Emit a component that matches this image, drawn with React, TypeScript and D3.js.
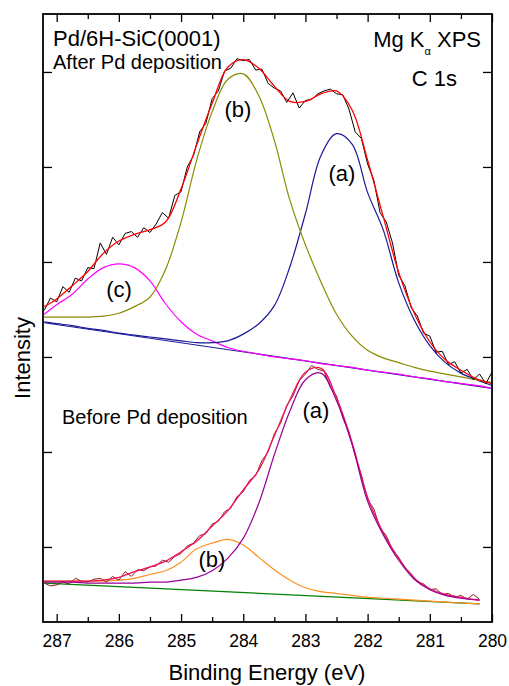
import { useEffect, useRef } from "react";
import * as d3 from "d3";

// binding energy grid of the measured spectra (eV)
const rawEnergy = [
  287.2, 287.1, 287.0, 286.9, 286.8, 286.7, 286.6, 286.5, 286.4, 286.3, 286.2, 286.1, 286.0,
  285.9, 285.8, 285.7, 285.6, 285.5, 285.4, 285.3, 285.2, 285.1, 285.0, 284.9, 284.8, 284.7,
  284.6, 284.5, 284.4, 284.3, 284.2, 284.1, 284.0, 283.9, 283.8, 283.7, 283.6, 283.5, 283.4,
  283.3, 283.2, 283.1, 283.0, 282.9, 282.8, 282.7, 282.6, 282.5, 282.4, 282.3, 282.2, 282.1,
  282.0, 281.9, 281.8, 281.7, 281.6, 281.5, 281.4, 281.3, 281.2, 281.1, 281.0, 280.9, 280.8,
  280.7, 280.6, 280.5, 280.4, 280.3, 280.2, 280.1, 280.0,
];

// after Pd deposition, measured counts (arb. units, offset)
const upperRaw = [
  349, 362, 358, 374, 368, 383, 380, 394, 393, 420, 408, 426, 418, 430, 432, 426, 436, 431, 440,
  452, 446, 470, 474, 500, 512, 537, 546, 572, 580, 601, 604, 614, 612, 613, 602, 603, 588, 583,
  580, 568, 578, 562, 570, 571, 577, 580, 582, 577, 576, 561, 537, 530, 503, 486, 452, 442, 420,
  386, 375, 352, 343, 325, 322, 305, 306, 292, 295, 283, 287, 276, 282, 272, 284,
];

// before Pd deposition, measured counts (ends at 280.2 eV)
const lowerRaw = [
  62, 59, 60, 63, 61, 67, 64, 63, 66, 67, 63, 69, 65, 74, 69, 76, 75, 79, 80, 86, 84, 90, 93, 101,
  104, 112, 114, 124, 127, 137, 141, 153, 158, 170, 175, 191, 200, 219, 230, 249, 259, 275, 282,
  291, 287, 285, 268, 259, 236, 221, 196, 176, 150, 140, 120, 112, 97, 89, 78, 72, 63, 61, 55, 56,
  50, 51, 47, 49, 45, 50, 45,
];

// energy grid of the fitted curves
const upperFitEnergy = [
  287.2, 287.0, 286.75, 286.5, 286.25, 286.0, 285.75, 285.5, 285.25, 285.0, 284.75, 284.5, 284.25,
  284.0, 283.75, 283.5, 283.25, 283.0, 282.75, 282.5, 282.25, 282.0, 281.75, 281.5, 281.25, 281.0,
  280.75, 280.5, 280.25, 280.0,
];
const upperFit = [
  353, 361, 375, 390, 409, 422, 429, 434, 442, 477, 523, 567, 605, 613, 604, 585, 569, 569, 577, 580,
  560, 507, 448, 389, 346, 316, 297, 286, 277, 272,
];
const upperPeakA = [
  337, 335, 333, 330, 328, 325, 323, 321, 319, 317, 315, 315, 317, 324, 335, 354, 395, 451, 512, 535,
  524, 473, 434, 378, 339, 312, 294, 283, 276, 270,
];
const upperPeakB = [
  342, 342, 342, 342, 343, 346, 353, 363, 392, 442, 507, 558, 592, 598, 575, 528, 465, 418, 379, 345,
  322, 307, 299, 294, 289, 285, 282, 279, 276, 273,
];
const upperPeakC = [
  345, 355, 366, 382, 394, 398, 394, 380, 356, 337, 324, 317, 310, 306, 303, 300, 298, 296, 293, 291,
  289, 286, 284, 282, 279, 277, 274, 272, 270, 267,
];
const upperBgEnergy = [287.2, 280.0];
const upperBg = [336, 267];

const lowerFitEnergy = [
  287.2, 287.0, 286.75, 286.5, 286.25, 286.0, 285.75, 285.5, 285.25, 285.0, 284.75, 284.5, 284.25,
  284.0, 283.75, 283.5, 283.25, 283.0, 282.75, 282.5, 282.25, 282.0, 281.75, 281.5, 281.25, 281.0,
  280.75, 280.5, 280.2,
];
const lowerFit = [
  64, 64, 64, 64, 65, 68, 74, 79, 85, 95, 106, 122, 138, 160, 181, 217, 255, 284, 288, 257, 210, 152,
  115, 88, 67, 56, 50, 47, 44,
];
const lowerPeakA = [
  63, 63, 63, 62, 62, 62, 62, 63, 63, 65, 68, 75, 88, 109, 146, 197, 243, 276, 283, 254, 208, 148,
  113, 86, 66, 55, 49, 46, 44,
];
const lowerPeakB = [
  64, 64, 64, 64, 64, 65, 67, 71, 75, 84, 98, 104, 108, 102, 89, 76, 65, 57, 53, 51, 49, 47, 46, 45,
  44, 43, 42, 41, 40,
];
const lowerBgEnergy = [287.2, 280.2];
const lowerBg = [62, 40];

const majorTicks = [287, 286, 285, 284, 283, 282, 281, 280];
const minorTicks = [286.5, 285.5, 284.5, 283.5, 282.5, 281.5, 280.5];
const yTicks = [100, 200, 300, 400, 500, 600];

const FONT = "'Liberation Sans', Arial, Helvetica, sans-serif";

const App = () => {
  const svgRef = useRef<SVGSVGElement>(null);

  useEffect(() => {
    const width = 509;
    const height = 686;
    const margin = { top: 14, right: 17, bottom: 64, left: 43 };

    const svg = d3.select(svgRef.current);
    svg.selectAll("*").remove();
    svg.attr("width", width).attr("height", height);

    const x = d3
      .scaleLinear()
      .domain([287.22, 280])
      .range([margin.left, width - margin.right]);
    const y = d3
      .scaleLinear()
      .domain([21, 661])
      .range([height - margin.bottom, margin.top]);

    const drawLine = (
      xs: number[],
      ys: number[],
      color: string,
      w: number,
      curve: d3.CurveFactory
    ) => {
      const pts = ys.map((v, i) => [xs[i], v] as [number, number]);
      svg
        .append("path")
        .datum(pts)
        .attr("fill", "none")
        .attr("stroke", color)
        .attr("stroke-width", w)
        .attr("stroke-linejoin", "round")
        .attr(
          "d",
          d3
            .line<[number, number]>()
            .x((d) => x(d[0]))
            .y((d) => y(d[1]))
            .curve(curve)
        );
    };

    // upper spectrum
    drawLine(upperBgEnergy, upperBg, "#1a1a99", 1.2, d3.curveLinear);
    drawLine(upperFitEnergy, upperPeakC, "#ff00ff", 1.2, d3.curveCatmullRom);
    drawLine(upperFitEnergy, upperPeakA, "#1a1a99", 1.2, d3.curveCatmullRom);
    drawLine(upperFitEnergy, upperPeakB, "#8b8b00", 1.2, d3.curveCatmullRom);
    drawLine(rawEnergy, upperRaw, "#000000", 1, d3.curveLinear);
    drawLine(upperFitEnergy, upperFit, "#ff0000", 1.3, d3.curveCatmullRom);

    // lower spectrum
    drawLine(lowerBgEnergy, lowerBg, "#008000", 1.2, d3.curveLinear);
    drawLine(lowerFitEnergy, lowerPeakB, "#ff9020", 1.2, d3.curveCatmullRom);
    drawLine(rawEnergy.slice(0, lowerRaw.length), lowerRaw, "#8b1a1a", 1, d3.curveLinear);
    drawLine(lowerFitEnergy, lowerFit, "#f0145a", 1.3, d3.curveCatmullRom);
    drawLine(lowerFitEnergy, lowerPeakA, "#990099", 1.2, d3.curveCatmullRom);

    // axes (ticks point inwards)
    const y0 = height - margin.bottom;
    const x1 = width - margin.right;
    const styleAxis = (g: d3.Selection<SVGGElement, unknown, null, undefined>) => {
      g.select(".domain").remove();
      g.selectAll("line").attr("stroke", "#000").attr("stroke-width", 1.3);
      g.selectAll("text")
        .attr("font-family", FONT)
        .attr("font-size", 17.5)
        .attr("fill", "#000");
    };

    svg
      .append("g")
      .attr("transform", `translate(0,${y0})`)
      .call(
        d3
          .axisBottom(x)
          .tickValues(majorTicks)
          .tickSizeInner(-8)
          .tickSizeOuter(0)
          .tickPadding(12.5)
          .tickFormat(d3.format("d"))
      )
      .call(styleAxis);
    svg
      .append("g")
      .attr("transform", `translate(0,${y0})`)
      .call(d3.axisBottom(x).tickValues(minorTicks).tickSize(-5).tickFormat(() => ""))
      .call(styleAxis);
    svg
      .append("g")
      .attr("transform", `translate(0,${margin.top})`)
      .call(d3.axisTop(x).tickValues(majorTicks).tickSize(-8).tickFormat(() => ""))
      .call(styleAxis);
    svg
      .append("g")
      .attr("transform", `translate(0,${margin.top})`)
      .call(d3.axisTop(x).tickValues(minorTicks).tickSize(-5).tickFormat(() => ""))
      .call(styleAxis);
    svg
      .append("g")
      .attr("transform", `translate(${margin.left},0)`)
      .call(d3.axisLeft(y).tickValues(yTicks).tickSize(-9).tickFormat(() => ""))
      .call(styleAxis);
    svg
      .append("g")
      .attr("transform", `translate(${x1},0)`)
      .call(d3.axisRight(y).tickValues(yTicks).tickSize(-9).tickFormat(() => ""))
      .call(styleAxis);

    svg
      .append("rect")
      .attr("x", margin.left)
      .attr("y", margin.top)
      .attr("width", x1 - margin.left)
      .attr("height", y0 - margin.top)
      .attr("fill", "none")
      .attr("stroke", "#000")
      .attr("stroke-width", 1.8);

    const label = (
      tx: number,
      ty: number,
      text: string,
      size: number,
      anchor = "start"
    ) =>
      svg
        .append("text")
        .attr("x", tx)
        .attr("y", ty)
        .attr("text-anchor", anchor)
        .attr("font-family", FONT)
        .attr("font-size", size)
        .attr("fill", "#000")
        .text(text);

    label(53, 46, "Pd/6H-SiC(0001)", 22);
    label(53, 69, "After Pd deposition", 20);
    label(457, 86, "C 1s", 22, "end");
    label(238, 117, "(b)", 22, "middle");
    label(342, 181, "(a)", 22, "middle");
    label(119, 297, "(c)", 22, "middle");
    label(62, 424, "Before Pd deposition", 20);
    label(316, 418, "(a)", 22, "middle");
    label(212, 567, "(b)", 22, "middle");

    const mg = svg
      .append("text")
      .attr("x", 481)
      .attr("y", 47)
      .attr("text-anchor", "end")
      .attr("font-family", FONT)
      .attr("font-size", 22)
      .attr("fill", "#000")
      .style("white-space", "pre");
    mg.append("tspan").text("Mg K");
    mg.append("tspan").attr("font-size", 11).attr("dy", 8).text("α");
    mg.append("tspan").attr("dy", -8).text(" XPS");

    label(267, 680, "Binding Energy (eV)", 22, "middle");
    svg
      .append("text")
      .attr("transform", `translate(30,358) rotate(-90)`)
      .attr("text-anchor", "middle")
      .attr("font-family", FONT)
      .attr("font-size", 22)
      .attr("fill", "#000")
      .text("Intensity");
  }, []);

  return (
    <svg
      ref={svgRef}
      style={{ position: "absolute", left: 0, top: 0, display: "block", background: "#fff" }}
    ></svg>
  );
};

export default App;
